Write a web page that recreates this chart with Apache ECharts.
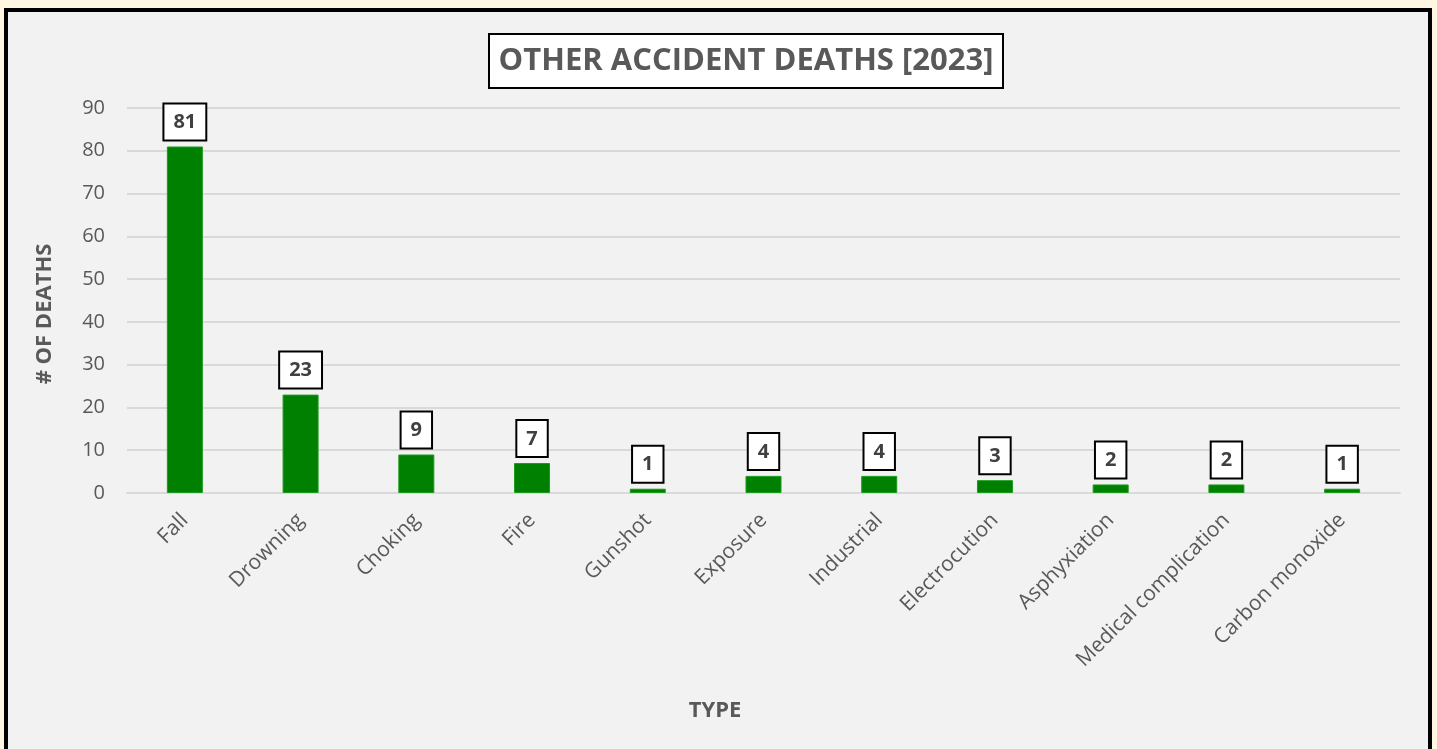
<!DOCTYPE html>
<html>
<head>
<meta charset="utf-8">
<script src="https://cdn.jsdelivr.net/npm/echarts@6/dist/echarts.min.js"></script>
<style>
    html, body { margin: 0; padding: 0; background: #FFF7E1; overflow: hidden; }
    #frame {
        position: absolute; left: 4px; top: 8px;
        width: 1420px; height: 800px;
        border: 4px solid #000; background: #F2F2F2;
    }
    #chart { width: 1420px; height: 737px; }
</style>
</head>
<body>
<div id="frame"><div id="chart"></div></div>
<script>
// 数据
const categories = ['Fall', 'Drowning', 'Choking', 'Fire', 'Gunshot', 'Exposure', 'Industrial',
    'Electrocution', 'Asphyxiation', 'Medical complication', 'Carbon monoxide'];
const deaths = [81, 23, 9, 7, 1, 4, 4, 3, 2, 2, 1];
const yTicks = [0, 10, 20, 30, 40, 50, 60, 70, 80, 90];

const chart = echarts.init(document.getElementById('chart'));
const textColor = '#595959';
const font = '"Open Sans", "DejaVu Sans", sans-serif';

const option = {
    backgroundColor: '#F2F2F2',
    animation: false,
    textStyle: { fontFamily: font },
    title: {
        text: 'OTHER ACCIDENT DEATHS [2023]',
        left: 728,
        top: 22,
        textAlign: 'center',
        backgroundColor: '#fff',
        borderColor: '#000',
        borderWidth: 2,
        padding: [12, 10, 11, 10],
        textStyle: {
            fontFamily: font,
            fontSize: 31,
            fontWeight: 'bold',
            color: textColor
        }
    },
    grid: {
        left: 119,
        right: 28,
        top: 96,
        bottom: 256
    },
    xAxis: {
        type: 'category',
        data: categories,
        axisLine: { lineStyle: { color: '#D9D9D9', width: 2 } },
        axisTick: { show: false },
        axisLabel: {
            rotate: 45,
            margin: 24,
            interval: 0,
            fontSize: 21,
            color: textColor
        }
    },
    yAxis: {
        type: 'value',
        min: yTicks[0],
        max: yTicks[yTicks.length - 1],
        interval: 10,
        axisLine: { show: false },
        axisTick: { show: false },
        axisLabel: { fontSize: 20, color: textColor, margin: 22 },
        splitLine: { lineStyle: { color: '#D9D9D9', width: 2 } }
    },
    graphic: [{
        // 纵轴标题
        type: 'text',
        x: 37,
        y: 302,
        rotation: Math.PI / 2,
        style: {
            text: '# OF DEATHS',
            font: 'bold 22px ' + font,
            fill: textColor,
            align: 'center',
            verticalAlign: 'middle'
        }
    }, {
        // 横轴标题
        type: 'text',
        x: 707,
        y: 699,
        style: {
            text: 'TYPE',
            font: 'bold 22px ' + font,
            fill: textColor,
            align: 'center',
            verticalAlign: 'middle'
        }
    }],
    series: [{
        type: 'bar',
        data: deaths,
        barWidth: 36,
        itemStyle: {
            color: '#008000',
            borderColor: '#1C9A1C',
            borderWidth: 1
        },
        label: {
            show: true,
            position: 'top',
            distance: 7,
            backgroundColor: '#fff',
            borderColor: '#000',
            borderWidth: 2,
            padding: [8, 9, 7, 9],
            fontSize: 20,
            fontWeight: 'bold',
            color: '#404040'
        }
    }]
};

chart.setOption(option);

window.onresize = function () {
    chart.resize();
};
</script>
</body>
</html>
